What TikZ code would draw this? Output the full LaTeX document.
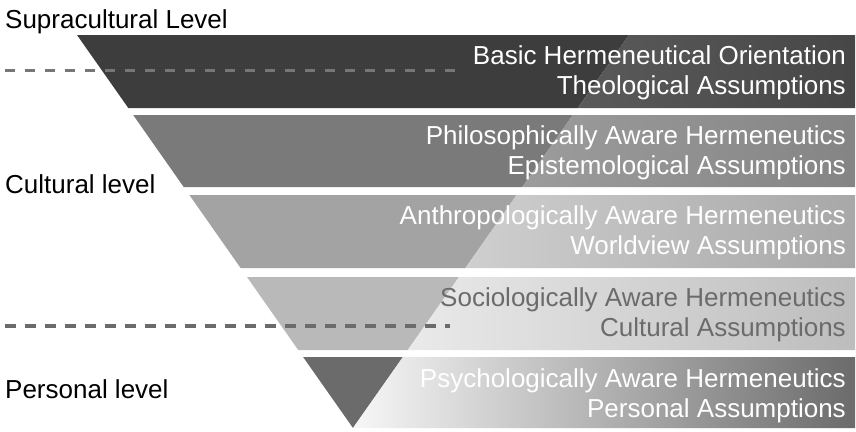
\documentclass[tikz,border=0pt]{standalone}
\usepackage{fontspec}
\setmainfont{Liberation Sans}
\usepackage{xcolor}
\usepackage{tikz}

\definecolor{bandA}{HTML}{3D3D3D}
\definecolor{bandAlt}{HTML}{5A5A5A}
\definecolor{bandB}{HTML}{7A7A7A}
\definecolor{bandBlt}{HTML}{9C9C9C}
\definecolor{bandC}{HTML}{A3A3A3}
\definecolor{bandClt}{HTML}{CFCFCF}
\definecolor{bandD}{HTML}{B9B9B9}
\definecolor{bandDlt}{HTML}{EAEAEA}
\definecolor{bandE}{HTML}{6B6B6B}
\definecolor{bandElt}{HTML}{F7F7F7}
\definecolor{dashgray}{HTML}{767676}

\begin{document}
\begin{tikzpicture}[x=1pt, y=-1pt, font=\fontsize{26}{30}\selectfont,
  bandtext/.style={anchor=east, align=right, inner sep=0pt, text=white},
  leveltext/.style={anchor=base west, inner sep=0pt, text=black},
  levelline/.style={dashgray, line width=3pt, dash pattern=on 10pt off 10pt}]
\useasboundingbox (0,0) rectangle (856,431);

% bands: solid part inside the triangle, shaded part to the right
\fill[bandA] (77,35) -- (629,35) -- (577.7,108) -- (128.3,108) -- cycle;
\shade[left color=bandAlt, right color=bandA!95!white] (629,35) -- (855,35) -- (855,108) -- (577.7,108) -- cycle;
\fill[bandB] (133.2,115) -- (572.8,115) -- (522.3,187) -- (183.7,187) -- cycle;
\shade[left color=bandBlt, right color=bandB!92!white] (572.8,115) -- (855,115) -- (855,187) -- (522.3,187) -- cycle;
\fill[bandC] (189.4,195) -- (516.6,195) -- (465.4,268) -- (240.6,268) -- cycle;
\shade[left color=bandClt, right color=bandC!95!white] (516.6,195) -- (855,195) -- (855,268) -- (465.4,268) -- cycle;
\fill[bandD] (247,277) -- (459,277) -- (407.8,350) -- (298.2,350) -- cycle;
\shade[left color=bandDlt, right color=bandD!95!white] (459,277) -- (855,277) -- (855,350) -- (407.8,350) -- cycle;
\fill[bandE] (303.1,357) -- (402.9,357) -- (353,428) -- cycle;
\shade[left color=bandElt, right color=bandE] (402.9,357) -- (855,357) -- (855,428) -- (353,428) -- cycle;

% level borders
\draw[levelline] (5,70) -- (465,70);
\draw[levelline, bandE, line width=3.5pt, dash pattern=on 11pt off 9pt] (5,326) -- (450,326);

% level labels
\node[leveltext] (supra) at (5,28) {Supracultural Level};
\node[leveltext] (cultural) at (5,193) {Cultural level};
\node[leveltext] (personal) at (5,398) {Personal level};

% band labels
\node[bandtext] (basic) at (846,73) {Basic Hermeneutical Orientation\\Theological Assumptions};
\node[bandtext] (philo) at (846,153) {Philosophically Aware Hermeneutics\\Epistemological Assumptions};
\node[bandtext] (anthro) at (846,233) {Anthropologically Aware Hermeneutics\\Worldview Assumptions};
\node[bandtext, text=bandE] (socio) at (846,315) {Sociologically Aware Hermeneutics\\Cultural Assumptions};
\node[bandtext] (psycho) at (846,396) {Psychologically Aware Hermeneutics\\Personal Assumptions};
\end{tikzpicture}
\end{document}
